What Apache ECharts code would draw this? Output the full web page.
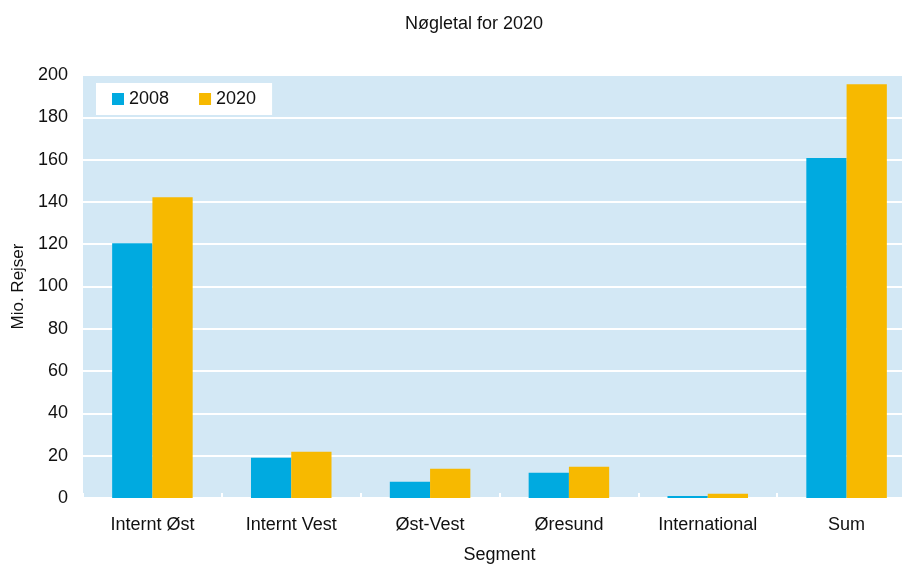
<!DOCTYPE html>
<html>
<head>
<meta charset="utf-8">
<title>Nøgletal for 2020</title>
<script src="https://cdn.jsdelivr.net/npm/echarts@6/dist/echarts.min.js"></script>
<style>
  html, body { margin: 0; padding: 0; background: #fff; }
  #chart { width: 902px; height: 565px; }
</style>
</head>
<body>
<div id="chart"></div>
<script>
// data
const segments = ['Internt Øst', 'Internt Vest', 'Øst-Vest', 'Øresund', 'International', 'Sum']
const values2008 = [120.5, 19, 7.7, 11.9, 0.9, 160.7]
const values2020 = [142.2, 21.9, 13.8, 14.8, 2.0, 195.6]
const yTicks = [0, 20, 40, 60, 80, 100, 120, 140, 160, 180, 200]

const font = 'Liberation Sans, Arial, sans-serif'
const chart = echarts.init(document.getElementById('chart'))

const option = {
  animation: false,
  title: {
    text: 'Nøgletal for 2020',
    left: 400,
    top: 10,
    textStyle: { fontFamily: font, fontSize: 18, fontWeight: 'normal', color: '#111' }
  },
  legend: {
    data: ['2008', '2020'],
    left: 96,
    top: 83,
    padding: [7, 16, 7, 16],
    backgroundColor: '#fff',
    icon: 'rect',
    itemWidth: 12,
    itemHeight: 12,
    itemGap: 30,
    textStyle: { fontFamily: font, fontSize: 18, color: '#111' }
  },
  grid: {
    show: true,
    left: 83,
    width: 833, // plot runs past the right edge of the picture
    top: 75,
    bottom: 67,
    outerBoundsMode: 'none',
    backgroundColor: '#D3E8F5',
    borderWidth: 0
  },
  xAxis: {
    type: 'category',
    data: segments,
    name: 'Segment',
    nameLocation: 'middle',
    nameGap: 48,
    nameTextStyle: { fontFamily: font, fontSize: 18, color: '#111' },
    axisLine: { lineStyle: { color: '#fff', width: 1 } },
    axisTick: { show: true, inside: true, length: 5, lineStyle: { color: '#fff', width: 2 } },
    axisLabel: { fontFamily: font, fontSize: 18, color: '#111', margin: 18 }
  },
  yAxis: {
    type: 'value',
    min: yTicks[0],
    max: yTicks[yTicks.length - 1],
    interval: yTicks[1] - yTicks[0],
    name: 'Mio. Rejser',
    nameLocation: 'middle',
    nameGap: 56,
    nameTextStyle: { fontFamily: font, fontSize: 17, color: '#111' },
    axisLine: { show: false },
    axisTick: { show: false },
    axisLabel: { fontFamily: font, fontSize: 18, color: '#111', margin: 15 },
    splitLine: { lineStyle: { color: '#fff', width: 2 } }
  },
  series: [
    {
      name: '2008',
      type: 'bar',
      data: values2008,
      barGap: '0%',
      barCategoryGap: '42%',
      itemStyle: { color: '#00AAE0' }
    },
    {
      name: '2020',
      type: 'bar',
      data: values2020,
      barGap: '0%',
      barCategoryGap: '42%',
      itemStyle: { color: '#F7B900' }
    }
  ]
}

chart.setOption(option)
</script>
</body>
</html>
